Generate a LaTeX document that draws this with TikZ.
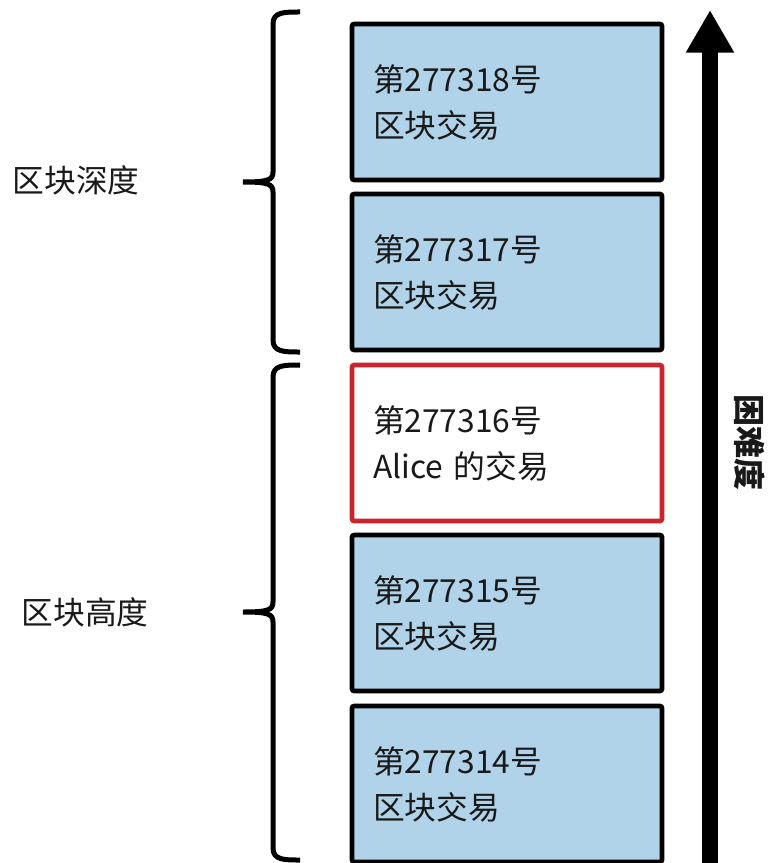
\documentclass[tikz,border=0pt]{standalone}
\usepackage{fontspec}
\setmainfont{Noto Sans CJK SC}
\usetikzlibrary{arrows.meta}
\definecolor{blockblue}{RGB}{176,211,234}
\definecolor{alicered}{RGB}{200,38,44}
\definecolor{inktext}{RGB}{25,25,25}
\tikzset{
  block/.style={draw=black, line width=3.4pt, fill=blockblue, rounded corners=1.5pt,
    minimum height=117pt, text width=201pt, inner xsep=15.75pt, align=left,
    font=\fontsize{23.8}{34.5}\selectfont, text=inktext},
  sidelabel/.style={right, font=\fontsize{23.8}{28}\selectfont, text=inktext},
  bracket/.style={line width=3.75pt},
}
\begin{document}
\begin{tikzpicture}[x=0.75pt, y=-0.75pt]
\useasboundingbox (0,0) rectangle (770,863);
\node [block] (b318) at (507,102) {第277318号\\区块交易};
\node [block] (b317) at (507,272) {第277317号\\区块交易};
\node [block, draw=alicered, fill=white] (b316) at (507,443) {第277316号\\Alice 的交易};
\node [block] (b315) at (507,613) {第277315号\\区块交易};
\node [block] (b314) at (507,784) {第277314号\\区块交易};
\coordinate (hardlow) at (710,863);
\coordinate (hardtop) at (710,10);
\draw [line width=12pt, -{Triangle[width=34pt,length=32pt]}] (hardlow) -- (hardtop);
\node [rotate=-90, font=\bfseries\fontsize{24}{28}\selectfont, text=inktext] (hard) at (750,442) {困难度};
\draw [bracket] (300,12) .. controls (284,12) and (273,12) .. (273,24)
  -- (273,172) .. controls (273,180) and (268,182) .. (243,182)
  .. controls (268,182) and (273,184) .. (273,192)
  -- (273,340) .. controls (273,352) and (284,352) .. (300,352);
\draw [bracket] (300,365) .. controls (284,365) and (273,365) .. (273,377)
  -- (273,602) .. controls (273,610) and (268,612) .. (243,612)
  .. controls (268,612) and (273,614) .. (273,622)
  -- (273,848) .. controls (273,860) and (284,860) .. (300,860);
\node [sidelabel] (depth) at (8,180) {区块深度};
\node [sidelabel] (height) at (17,612) {区块高度};
\end{tikzpicture}
\end{document}
